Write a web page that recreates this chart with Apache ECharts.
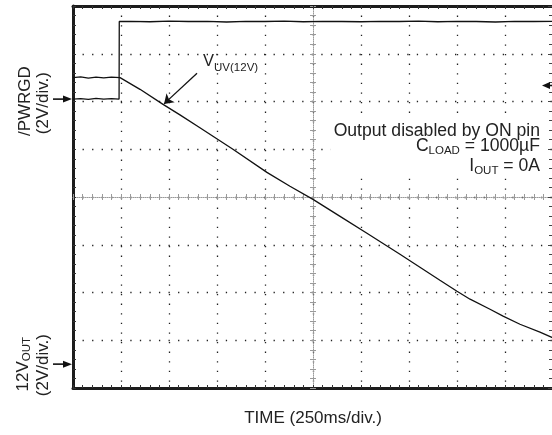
<!DOCTYPE html>
<html><head><meta charset="utf-8">
<script src="https://cdn.jsdelivr.net/npm/echarts@6/dist/echarts.min.js"></script>
<style>html,body{margin:0;padding:0;background:#fff;overflow:hidden}#c{width:560px;height:435px}</style>
</head><body><div id="c"></div>
<script>
// ---- data (time in ms, voltages in V) ----
const timeMin = 0, timeMax = 2500, timePerDiv = 250;
const voltPerDiv = 2;
const voutAxisRange = [-1, 15];        // 12V_OUT channel, ground marker near bottom
const pwrgdAxisRange = [-12.1, 3.9];   // /PWRGD channel, ground marker near top
const voutTime = [0, 40, 80, 120, 160, 200, 245, 250, 349, 469, 557, 661, 833, 1010, 1130, 1250, 1391, 1531, 1703, 1807, 1911, 2000, 2068, 2172, 2240, 2328, 2432, 2500];
const voutVolt = [12.0, 12.03, 11.98, 12.02, 11.99, 12.02, 12.0, 11.99, 11.51, 10.88, 10.44, 9.90, 9.00, 8.03, 7.45, 6.90, 6.19, 5.48, 4.60, 4.06, 3.51, 3.05, 2.72, 2.30, 2.01, 1.67, 1.34, 1.10];
const pwrgdTime = [0, 40, 80, 120, 160, 200, 240, 241, 300, 400, 500, 600, 700, 800, 900, 1000, 1100, 1200, 1300, 1400, 1500, 1600, 1700, 1800, 1900, 2000, 2100, 2200, 2300, 2400, 2500];
const pwrgdVolt = [0.0, 0.02, -0.01, 0.03, 0.0, 0.02, 0.0, 3.25, 3.26, 3.24, 3.27, 3.25, 3.26, 3.23, 3.26, 3.25, 3.27, 3.24, 3.26, 3.25, 3.24, 3.26, 3.25, 3.27, 3.24, 3.26, 3.25, 3.23, 3.26, 3.25, 3.26];
const uvArrowFrom = [646, 12.18];      // on 12V_OUT axis
const uvArrowTo = [474, 10.9];
const triggerLevelV = 11.67;           // right-edge marker, 12V_OUT axis

const FONT = '"Liberation Sans", Arial, Helvetica, sans-serif';
const TXT = '#222';
const frameColor = '#1c1c1c';

const frameAxisBase = {
  type: 'value', min: timeMin, max: timeMax, interval: timePerDiv,
  axisLine: {show: true, onZero: false, lineStyle: {color: frameColor, width: 3}},
  axisTick: {show: true, inside: true, length: 3, lineStyle: {color: '#333', width: 1}},
  minorTick: {show: true, splitNumber: 5, length: 3, lineStyle: {color: '#333', width: 1}},
  axisLabel: {show: false}, splitLine: {show: false}
};
const centerLine = {color: '#9a9a9a', width: 1, type: [1, 1]};
const centerTick = {color: '#9a9a9a', width: 1};

const chart = echarts.init(document.getElementById('c'));
chart.setOption({
  animation: false,
  backgroundColor: '#fff',
  grid: {left: 73, top: 6, width: 480, height: 382, outerBoundsMode: 'none', containLabel: false},
  xAxis: [
    Object.assign({}, frameAxisBase, {position: 'bottom',
      splitLine: {show: true, lineStyle: {color: '#222', width: 1.3, type: [1.3, 8.3]}}}),
    Object.assign({}, frameAxisBase, {position: 'top'}),
    {type: 'value', min: timeMin, max: timeMax, interval: timePerDiv, position: 'bottom',
      axisLine: {show: true, onZero: true, onZeroAxisIndex: 2, lineStyle: centerLine},
      axisTick: {show: true, inside: true, length: 3, lineStyle: centerTick},
      minorTick: {show: true, splitNumber: 5, length: 3, lineStyle: centerTick},
      axisLabel: {show: false}, splitLine: {show: false}},
    {type: 'value', min: timeMin, max: timeMax, interval: timePerDiv, position: 'bottom',
      axisLine: {show: false, onZero: true, onZeroAxisIndex: 2},
      axisTick: {show: true, inside: false, length: 3, lineStyle: centerTick},
      minorTick: {show: true, splitNumber: 5, length: 3, lineStyle: centerTick},
      axisLabel: {show: false}, splitLine: {show: false}},
    {type: 'value', min: -timeMax / 2, max: timeMax / 2, show: false}
  ],
  yAxis: [
    {type: 'value', min: 0, max: 8, interval: 1, position: 'left',
      axisLine: {show: true, onZero: false, lineStyle: {color: frameColor, width: 3}},
      axisTick: {show: true, inside: true, length: 3, lineStyle: {color: '#333', width: 1}},
      minorTick: {show: true, splitNumber: 5, length: 3, lineStyle: {color: '#333', width: 1}},
      axisLabel: {show: false},
      splitLine: {show: true, lineStyle: {color: '#222', width: 1.3, type: [1.3, 8.25]}}},
    {type: 'value', min: voutAxisRange[0], max: voutAxisRange[1], show: false},
    {type: 'value', min: -4, max: 4, show: false},
    {type: 'value', min: 0, max: 8, interval: 1, position: 'left',
      axisLine: {show: true, onZero: true, onZeroAxisIndex: 4, lineStyle: centerLine},
      axisTick: {show: true, inside: true, length: 3, lineStyle: centerTick},
      minorTick: {show: true, splitNumber: 5, length: 3, lineStyle: centerTick},
      axisLabel: {show: false}, splitLine: {show: false}},
    {type: 'value', min: 0, max: 8, interval: 1, position: 'left',
      axisLine: {show: false, onZero: true, onZeroAxisIndex: 4},
      axisTick: {show: true, inside: false, length: 3, lineStyle: centerTick},
      minorTick: {show: true, splitNumber: 5, length: 3, lineStyle: centerTick},
      axisLabel: {show: false}, splitLine: {show: false}},
    {type: 'value', min: pwrgdAxisRange[0], max: pwrgdAxisRange[1], show: false},
    {type: 'value', min: 0, max: 8, interval: 1, position: 'right',
      axisLine: {show: false, onZero: false},
      axisTick: {show: true, inside: true, length: 5, lineStyle: {color: '#444', width: 1}},
      minorTick: {show: true, splitNumber: 5, length: 4, lineStyle: {color: '#444', width: 1}},
      axisLabel: {show: false}, splitLine: {show: false}}
  ],
  series: [
    {name: '12V_OUT', type: 'line', xAxisIndex: 0, yAxisIndex: 1, symbol: 'none',
      lineStyle: {color: '#111', width: 1.3}, z: 5,
      data: voutTime.map((t, i) => [t, voutVolt[i]]),
      markLine: {silent: true, symbol: ['none', 'arrow'], symbolSize: 9, animation: false,
        lineStyle: {color: '#111', width: 1.3, type: 'solid'}, label: {show: false},
        data: [[{coord: uvArrowFrom}, {coord: uvArrowTo}]]}},
    {name: '/PWRGD', type: 'line', xAxisIndex: 0, yAxisIndex: 5, symbol: 'none',
      lineStyle: {color: '#111', width: 1.3}, z: 5,
      data: pwrgdTime.map((t, i) => [t, pwrgdVolt[i]])}
  ]
});

// ---- text helpers ----
const mctx = document.createElement('canvas').getContext('2d');
function tw(s, size) { mctx.font = size + 'px ' + FONT; return mctx.measureText(s).width; }
function txt(s, x, y, size, align) {
  return {type: 'text', silent: true, z: 20, style: {text: s, x: x, y: y, font: size + 'px ' + FONT,
    fill: TXT, align: align || 'left', textAlign: align || 'left', verticalAlign: 'middle', textVerticalAlign: 'middle'}};
}
function runText(parts, x0, y, size, subSize, drop) {
  let x = x0; const out = [];
  parts.forEach(p => {
    const sz = p[1] ? subSize : size;
    out.push(txt(p[0], x, y + (p[1] ? drop : 0), sz, 'left'));
    x += tw(p[0], sz);
  });
  return out;
}
function runWidth(parts, size, subSize) { return parts.reduce((a, p) => a + tw(p[0], p[1] ? subSize : size), 0); }

const FS = 17, NFS = 17.6, SUB = 11.5;
const els = [];
const px = (xi, yi, v) => chart.convertToPixel({xAxisIndex: xi, yAxisIndex: yi}, v);

// right-side notes on a white box
const note1 = [['Output disabled by ON pin', false]];
const note2 = [['C', false], ['LOAD', true], [' = 1000µF', false]];
const note3 = [['I', false], ['OUT', true], [' = 0A', false]];
const rightX = 540;
const w1 = runWidth(note1, NFS, SUB);
els.push({type: 'rect', silent: true, z: 15, shape: {x: rightX - w1 - 3, y: 121, width: w1 + 6, height: 54}, style: {fill: '#fff'}});
els.push(...runText(note1, rightX - w1, 131, NFS, SUB, 4));
els.push(...runText(note2, rightX - runWidth(note2, NFS, SUB), 146, NFS, SUB, 4.5));
els.push(...runText(note3, rightX - runWidth(note3, NFS, SUB), 166, NFS, SUB, 4.5));

// V_UV(12V) label
const uvFrom = px(0, 1, uvArrowFrom);
els.push(...runText([['V', false], ['UV(12V)', true]], uvFrom[0] + 6, uvFrom[1] - 12, 16.5, SUB, 7));

// x axis title
const midX = px(0, 1, [(timeMin + timeMax) / 2, 0])[0];
els.push(txt('TIME (250ms/div.)', midX, 418, FS, 'center'));

// rotated channel labels
function rotGroup(parts, cx, cy, size, subSize, drop) {
  const w = runWidth(parts, size, subSize);
  return {type: 'group', x: cx, y: cy, rotation: Math.PI / 2, silent: true,
    children: runText(parts, -w / 2, 0, size, subSize, drop)};
}
const yPw = px(0, 5, [0, 0])[1];
const yVo = px(0, 1, [0, 0])[1];
els.push(rotGroup([['/PWRGD', false]], 25, yPw + 2, FS, SUB, 4));
els.push(rotGroup([['(2V/div.)', false]], 43.5, yPw + 4, FS, SUB, 4));
els.push(rotGroup([['12V', false], ['OUT', true]], 23, yVo, FS, SUB, 4));
els.push(rotGroup([['(2V/div.)', false]], 43.5, yVo + 1, FS, SUB, 4));

// ground-reference arrows (left) and level marker (right)
function rightArrow(y) {
  return [
    {type: 'line', silent: true, shape: {x1: 53, y1: y, x2: 65, y2: y}, style: {stroke: '#111', lineWidth: 1.6}},
    {type: 'polygon', silent: true, shape: {points: [[72, y], [63, y - 3.5], [63, y + 3.5]]}, style: {fill: '#111'}}
  ];
}
els.push(...rightArrow(yPw));
els.push(...rightArrow(yVo));
const yTrig = px(0, 1, [0, triggerLevelV])[1];
els.push({type: 'line', silent: true, z: 20, shape: {x1: 548, y1: yTrig, x2: 556, y2: yTrig}, style: {stroke: '#111', lineWidth: 1.6}});
els.push({type: 'polygon', silent: true, z: 20, shape: {points: [[542, yTrig], [550, yTrig - 3.5], [550, yTrig + 3.5]]}, style: {fill: '#111'}});

chart.setOption({graphic: {elements: els}});
</script></body></html>
